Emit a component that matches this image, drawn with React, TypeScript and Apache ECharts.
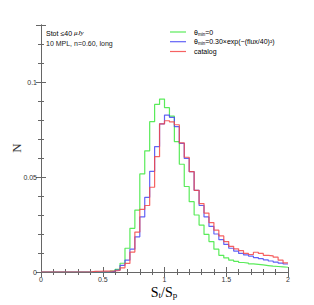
import React, { useEffect, useRef } from "react";
import * as echarts from "echarts";

const binWidth = 0.04;

// theta_min = 0 (green)
const greenValues = [
  0, 0, 0, 0, 0, 0, 0, 0, 0, 0,
  0, 0, 0, 0, 0.0005, 0.0014, 0.0046, 0.0125, 0.023, 0.0326,
  0.0516, 0.0638, 0.0791, 0.0882, 0.091, 0.0865, 0.082, 0.0686, 0.0567, 0.045,
  0.037, 0.030, 0.0247, 0.0198, 0.016, 0.012, 0.0088, 0.0074, 0.0062, 0.0056,
  0.005, 0.0047, 0.0043, 0.004, 0.0037, 0.0034, 0.0031, 0.0029, 0.0027, 0.0025,
];

// theta_min = 0.30 x exp(-(flux/40)^2) (blue)
const blueValues = [
  0, 0, 0, 0, 0, 0, 0, 0, 0, 0,
  0, 0, 0, 0, 0.0003, 0.001, 0.0035, 0.0062, 0.012, 0.0185,
  0.029, 0.0393, 0.053, 0.066, 0.078, 0.0826, 0.0814, 0.0765, 0.0677, 0.0598,
  0.0528, 0.043, 0.035, 0.029, 0.024, 0.020, 0.017, 0.0145, 0.0125, 0.011,
  0.0098, 0.009, 0.0084, 0.0076, 0.007, 0.0064, 0.0058, 0.0052, 0.0047, 0.0042,
];

// catalog (red)
const redValues = [
  0, 0, 0, 0, 0, 0, 0, 0, 0, 0,
  0.0003, 0.0004, 0.0005, 0.0005, 0.0006, 0.0008, 0.0022, 0.0045, 0.0105, 0.021,
  0.033, 0.035, 0.0446, 0.0607, 0.078, 0.0796, 0.079, 0.0775, 0.068, 0.0604,
  0.0528, 0.043, 0.036, 0.031, 0.026, 0.022, 0.019, 0.016, 0.0135, 0.0122,
  0.0112, 0.0098, 0.0092, 0.0104, 0.0098, 0.0088, 0.0085, 0.0078, 0.0062, 0.0048,
];

const xTickLabels = [0, 0.5, 1, 1.5, 2];
const yTickLabels = [0, 0.05, 0.1];

const seriesNames = ["θmin=0", "θmin=0.30×exp(−(flux/40)²)", "catalog"];
const seriesColors = ["#3de83d", "#4646f5", "#f44646"];

function toSteps(vals: number[]): number[][] {
  const pts = vals.map((v, i) => [+(i * binWidth).toFixed(4), v]);
  pts.push([+(vals.length * binWidth).toFixed(4), vals[vals.length - 1]]);
  return pts;
}

const AX = "#666";
const LBL = "#333";
const SANS = "Liberation Sans, Arial, sans-serif";
const SERIF = "Liberation Serif, Times New Roman, serif";

function makeAxis(pos: string, interval: number, major: boolean, min: number, max: number, labels: number[] | null) {
  return {
    type: "value",
    position: pos,
    min,
    max,
    interval,
    splitLine: { show: false },
    axisLine: { show: major ? false : true, lineStyle: { color: AX, width: 1 } },
    axisTick: { show: true, inside: true, length: major ? 5 : 3, lineStyle: { color: AX, width: 1 } },
    axisLabel: labels
      ? {
          show: true,
          fontSize: 7,
          fontFamily: SANS,
          color: LBL,
          margin: 4,
          showMaxLabel: true,
          showMinLabel: true,
          formatter: (v: number) => {
            const r = Math.round(v * 1000) / 1000;
            return labels.some((t) => Math.abs(t - r) < 1e-9) ? String(r) : "";
          },
        }
      : { show: false },
  };
}

export default function App() {
  const ref = useRef<HTMLDivElement>(null);
  useEffect(() => {
    if (!ref.current) return;
    const chart = echarts.init(ref.current, null, { renderer: "svg" });
    const data = [greenValues, blueValues, redValues];
    const subRich = {
      g: { fontSize: 7, fontFamily: SANS, color: seriesColors[0] },
      gs: { fontSize: 4.5, fontFamily: SANS, color: seriesColors[0], padding: [4, 0, 0, 0] },
      b: { fontSize: 7, fontFamily: SANS, color: seriesColors[1] },
      bs: { fontSize: 4.5, fontFamily: SANS, color: seriesColors[1], padding: [4, 0, 0, 0] },
      r: { fontSize: 7, fontFamily: SANS, color: seriesColors[2] },
    };
    const legendY = [32, 41.7, 51.5];
    const legendTexts = [
      "{g|θ}{gs|min}{g|=0}",
      "{b|θ}{bs|min}{b|=0.30×exp(−(flux/40)²)}",
      "{r|catalog}",
    ];
    const graphics: any[] = [];
    legendY.forEach((y, i) => {
      graphics.push({
        type: "line",
        shape: { x1: 170, y1: y, x2: 186, y2: y },
        style: { stroke: seriesColors[i], lineWidth: 1.2, opacity: 0.85 },
      });
      graphics.push({
        type: "text",
        x: 194,
        y: y,
        style: { text: legendTexts[i], rich: subRich, verticalAlign: "middle", align: "left" },
      });
    });
    graphics.push({
      type: "text",
      x: 46,
      y: 33,
      style: {
        text: "{a|Stot ≤40 }{i|μJy}",
        rich: {
          a: { fontSize: 7, fontFamily: SANS, color: "#222" },
          i: { fontSize: 7, fontFamily: SERIF, fontStyle: "italic", color: "#222" },
        },
        verticalAlign: "middle",
      },
    });
    graphics.push({
      type: "text",
      x: 46,
      y: 43,
      style: { text: "10 MPL, n=0.60, long", fontSize: 7, fontFamily: SANS, fill: "#222", verticalAlign: "middle" },
    });
    graphics.push({
      type: "text",
      x: 16,
      y: 148,
      rotation: Math.PI / 2,
      style: { text: "N", fontSize: 13, fontFamily: SERIF, fill: "#333", align: "center", verticalAlign: "middle" },
    });
    graphics.push({
      type: "text",
      x: 164,
      y: 292,
      style: {
        text: "{n|S}{s|t}{n|/S}{s|p}",
        rich: {
          n: { fontSize: 14, fontFamily: SERIF, color: "#333" },
          s: { fontSize: 9, fontFamily: SERIF, color: "#333", padding: [6, 0, 0, 0] },
        },
        align: "center",
        verticalAlign: "middle",
      },
    });

    chart.setOption({
      animation: false,
      backgroundColor: "#fff",
      grid: { left: 41, right: 26, top: 25, bottom: 33, containLabel: false },
      xAxis: [
        makeAxis("bottom", 0.1, false, 0, 2, null),
        makeAxis("bottom", 0.5, true, 0, 2, xTickLabels),
        makeAxis("top", 0.1, false, 0, 2, null),
        makeAxis("top", 0.5, true, 0, 2, null),
      ],
      yAxis: [
        makeAxis("left", 0.01, false, 0, 0.13, null),
        makeAxis("left", 0.05, true, 0, 0.13, yTickLabels),
        makeAxis("right", 0.01, false, 0, 0.13, null),
        makeAxis("right", 0.05, true, 0, 0.13, null),
      ],
      series: data.map((vals, i) => ({
        type: "line",
        name: seriesNames[i],
        xAxisIndex: 0,
        yAxisIndex: 0,
        step: "end",
        showSymbol: false,
        symbol: "none",
        data: toSteps(vals),
        lineStyle: { color: seriesColors[i], width: 1.2, opacity: 0.85 },
        itemStyle: { color: seriesColors[i] },
        clip: true,
      })),
      graphic: graphics,
    });
    return () => chart.dispose();
  }, []);
  return (
    <div
      ref={ref}
      style={{ position: "absolute", left: 0, top: 0, width: 314, height: 305, background: "#fff" }}
    />
  );
}
